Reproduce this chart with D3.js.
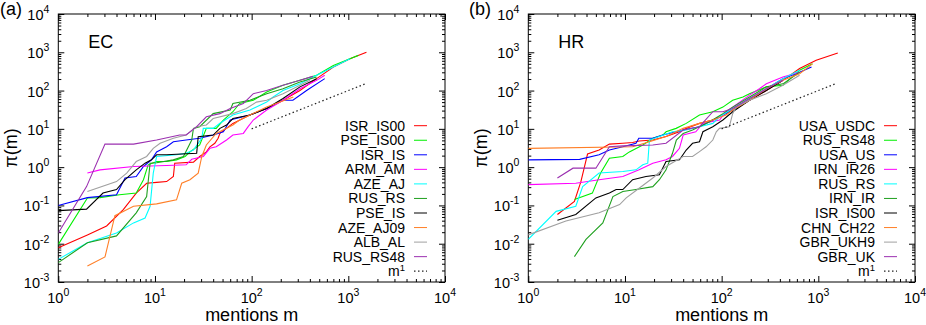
<!DOCTYPE html>
<html>
<head>
<meta charset="utf-8">
<script src="https://d3js.org/d3.v7.min.js"></script>
<style>
  body { margin: 0; background: #fff; }
  text { font-family: "Liberation Sans", Arial, sans-serif; fill: #000; }
</style>
</head>
<body>
<svg id="chart" width="926" height="325"></svg>
<script>
// ---- data (mentions m, pi(m)) ----
var xExps = [0, 1, 2, 3, 4];
var yExps = [-3, -2, -1, 0, 1, 2, 3, 4];
var colors = ["#ff0000", "#00f000", "#0000ff", "#ff00ff", "#00ffff",
              "#1fa01f", "#000000", "#ff7f27", "#a0a0a0", "#9b30b0"];

var ecNames = ["ISR_IS00", "PSE_IS00", "ISR_IS", "ARM_AM", "AZE_AJ",
               "RUS_RS", "PSE_IS", "AZE_AJ09", "ALB_AL", "RUS_RS48"];
var ecData = [
  // ISR_IS00
  [[1,0.0079],[2,0.017],[3.16,0.029],[4.7,0.078],[6.4,0.21],[8.2,0.38],[10.4,0.4],[13.2,0.42],[15.5,0.57],[16,1.27],[25,1.35],[29,1.9],[34,2.5],[37,3.4],[41.6,4.2],[45,5.7],[47,7.6],[64,13.9],[96,23],[143,34],[211,56],[316,100],[470,205],[700,410],[1040,680],[1540,1000]],
  // PSE_IS00
  [[1,0.0096],[2,0.157],[2.7,0.16],[4.3,0.19],[6.4,0.21],[7.6,0.47],[8.5,1.15],[10.4,1.4],[13.2,1.4],[16.7,1.55],[20.5,1.9],[23,2.5],[29,3.8],[34,10.3],[43,10.3],[51,17],[64,28],[75,46],[104,56],[143,92],[211,137],[316,185],[470,250],[700,450],[1040,680],[1270,830]],
  // ISR_IS
  [[1,0.1],[2,0.16],[4,0.19],[4.9,0.52],[6.4,0.57],[7.6,1.04],[9.2,1.55],[10.4,2.5],[13.2,3.4],[15.5,4.6],[21,5.1],[29,5.7],[40,6.9],[51,8.4],[60,17],[96,23],[143,34],[211,56],[267,56],[370,100],[570,205]],
  // ARM_AM
  [[2,0.7],[2.7,0.85],[6,1.04],[13.2,1.1],[21,1.15],[24,1.6],[31.6,1.9],[37,3.1],[43,3.4],[55,5.1],[64,6.9],[82,7.6],[92,11.4],[104,17],[143,31],[211,56],[316,112],[470,185],[570,250]],
  // AZE_AJ
  [[1,0.0039],[2,0.0106],[4,0.019],[6,0.035],[7.9,0.047],[8.9,0.095],[9.6,0.7],[10.4,1.9],[16.7,2.1],[21,2.3],[25,2.8],[30.5,5.7],[31.6,10.3],[40,10.3],[47,14],[64,23],[96,31],[143,50],[167,68],[211,100],[316,150],[470,250],[700,410],[1040,680]],
  // RUS_RS
  [[1,0.0032],[2,0.0106],[4,0.016],[6.4,0.064],[8.2,0.17],[8.9,1.27],[10.4,1.3],[15.5,1.55],[19.7,1.9],[24,5.1],[25,10.3],[29,11.4],[40,25],[60,31],[64,46],[96,56],[143,83],[211,112],[316,168],[470,225]],
  // PSE_IS
  [[1,0.073],[1.96,0.08],[2.9,0.21],[4,0.26],[4.9,0.47],[6.4,0.85],[7.9,1.27],[9.2,1.55],[10.4,2.1],[13.2,2.1],[27,2.3],[28,6.2],[40,6.9],[47,10.3],[55,12.6],[64,18.6],[96,23],[143,34],[211,62],[316,125],[470,205]],
  // AZE_AJ09
  [[2,0.0026],[3.04,0.0045],[3.85,0.054],[6,0.095],[10.4,0.11],[16.7,0.14],[18.9,0.38],[23,0.47],[28,0.7],[30.5,1.9],[34,3.8],[43,7.6],[64,12.6],[75,17],[96,23],[143,37],[270,68]],
  // ALB_AL
  [[2,0.23],[4,0.42],[5.1,0.7],[6.4,1.4],[8.2,1.9],[9.6,3.1],[11.3,4.2],[15.5,5.7],[21,6.9],[27,11.4],[34,12.6],[40,18.6],[64,25],[88,34],[112,50],[143,56],[211,83],[316,137],[400,185]],
  // RUS_RS48
  [[1,0.019],[1.96,0.31],[3.04,4.0],[6,4.0],[10.4,5.1],[18,6.9],[21,6.9],[27,11.4],[34,20.7],[47,25],[60,34],[82,46],[104,83],[143,100],[211,137],[316,185],[430,235]]
];

var hrNames = ["USA_USDC", "RUS_RS48", "USA_US", "IRN_IR26", "RUS_RS",
               "IRN_IR", "ISR_IS00", "CHN_CH22", "GBR_UKH9", "GBR_UK"];
var hrData = [
  // USA_USDC
  [[2,0.058],[3,0.128],[3.5,0.42],[4.1,2.2],[5.4,2.8],[6.9,4.0],[9.5,4.2],[12,4.4],[14,4.8],[19.4,5.1],[26.6,6.3],[36.6,8.4],[43,10.3],[59,13.9],[81,17],[103,23],[130,31],[194,56],[290,100],[430,185],[640,375],[950,620],[1590,960]],
  // RUS_RS48
  [[3,0.142],[4.6,0.21],[5.6,0.7],[6.9,1.7],[9.5,1.9],[11.1,2.5],[15.3,3.8],[19.4,5.7],[24.6,6.9],[26.6,8.4],[33.8,10.3],[43,13.9],[59,23],[81,28],[103,37],[130,56],[166,68],[194,83],[290,125],[430,137],[640,340],[870,500]],
  // USA_US
  [[1,1.55],[3.4,1.6],[5.4,2.1],[6.9,2.8],[9.5,3.4],[13,4.2],[13.9,5.7],[19.4,5.7],[24.6,6.9],[40,9.3],[59,11.4],[95,20.7],[130,31],[194,56],[290,112],[430,205],[640,300],[850,410]],
  // IRN_IR26
  [[1,0.35],[3.1,0.38],[5.4,0.47],[9.5,0.57],[14,0.85],[19.4,1.27],[26.6,1.55],[31,1.9],[36.6,3.1],[40,6.9],[46,7.6],[54,8.4],[64,13.9],[95,17],[111,28],[130,37],[194,76],[246,112],[290,150],[430,225],[640,300]],
  // RUS_RS
  [[1,0.013],[1.94,0.07],[3.1,0.095],[3.65,0.31],[5.4,0.7],[9.5,0.77],[13,0.85],[15.3,1.15],[17.2,1.27],[17.9,5.1],[22.7,6.3],[31,8.4],[43,9.3],[59,11.4],[81,13.9],[95,20.7],[130,34],[194,62],[290,112],[430,205],[640,340]],
  // IRN_IR
  [[3,0.0046],[3.95,0.013],[5.9,0.035],[7.5,0.17],[9.5,0.23],[13,0.26],[19.4,0.31],[22.7,0.47],[26.6,0.85],[31,2.3],[34,5.1],[40,7.6],[50,9.3],[75,15.3],[103,25],[130,37],[194,68],[290,125],[430,150],[640,300]],
  // ISR_IS00
  [[2,0.041],[3.1,0.058],[5,0.157],[6.9,0.21],[8.1,0.26],[9.5,0.26],[12,0.47],[16.5,0.57],[22.7,0.63],[26.6,1.4],[36.6,1.55],[43,2.8],[50,4.2],[59,4.6],[64,8.4],[81,11.4],[103,17],[130,28],[194,56],[290,100],[430,185]],
  // CHN_CH22
  [[1,3.1],[12,3.4],[17.9,4.6],[26.6,6.3],[40,10.3],[59,13.9],[81,17],[111,23],[130,31],[194,56],[290,112],[430,185],[640,275],[870,500]],
  // GBR_UKH9
  [[1,0.017],[2.45,0.039],[5.4,0.064],[8.8,0.105],[10.3,0.157],[14,0.28],[19.4,0.52],[26.6,1.04],[40,1.9],[50,1.9],[59,2.55],[69,3.4],[81,5.1],[88,8.4],[95,10.3],[120,11.4],[130,25],[141,37],[194,56],[290,83],[430,137],[640,250]],
  // GBR_UK
  [[2,0.52],[2.9,0.94],[5,0.94],[6.9,3.4],[9.5,3.6],[19.4,3.8],[26.6,4.2],[40,9.3],[59,11.4],[81,28],[103,28],[130,34],[194,62],[290,112],[430,185]]
];

// reference line pi = m/10 drawn from m=100 to m=1550
var refLine = [[100, 10], [1550, 155]];

// ---- drawing ----
var svg = d3.select("#chart");

var panels = [
  {left: 58.3, tag: "(a)", tagX: 0, title: "EC", names: ecNames, data: ecData},
  {left: 528.3, tag: "(b)", tagX: 469, title: "HR", names: hrNames, data: hrData}
];

var plotW = 386.7, plotTop = 14, plotBottom = 282;

panels.forEach(function(p) {
  var x = d3.scaleLog().domain([1, 1e4]).range([p.left, p.left + plotW]);
  var y = d3.scaleLog().domain([1e-3, 1e4]).range([plotBottom, plotTop]);

  var majorX = xExps.map(function(e) { return Math.pow(10, e); });
  var majorY = yExps.map(function(e) { return Math.pow(10, e); });
  var minorX = [], minorY = [];
  xExps.slice(0, -1).forEach(function(e) { for (var k = 2; k < 10; k++) minorX.push(k * Math.pow(10, e)); });
  yExps.slice(0, -1).forEach(function(e) { for (var k = 2; k < 10; k++) minorY.push(k * Math.pow(10, e)); });

  var g = svg.append("g");

  // inward ticks on all four sides
  function ticks(axis, vals, size, tr) {
    var a = g.append("g").attr("transform", tr)
      .call(axis.tickValues(vals).tickSize(-size).tickFormat(""));
    a.select(".domain").remove();
    a.selectAll("line").attr("stroke", "#000").attr("stroke-width", 1);
  }
  ticks(d3.axisBottom(x), majorX, 6, "translate(0," + plotBottom + ")");
  ticks(d3.axisBottom(x), minorX, 3, "translate(0," + plotBottom + ")");
  ticks(d3.axisTop(x), majorX, 6, "translate(0," + plotTop + ")");
  ticks(d3.axisTop(x), minorX, 3, "translate(0," + plotTop + ")");
  ticks(d3.axisLeft(y), majorY, 6, "translate(" + p.left + ",0)");
  ticks(d3.axisLeft(y), minorY, 3, "translate(" + p.left + ",0)");
  ticks(d3.axisRight(y), majorY, 6, "translate(" + (p.left + plotW) + ",0)");
  ticks(d3.axisRight(y), minorY, 3, "translate(" + (p.left + plotW) + ",0)");

  g.append("rect").attr("x", p.left).attr("y", plotTop)
    .attr("width", plotW).attr("height", plotBottom - plotTop)
    .attr("fill", "none").attr("stroke", "#000").attr("stroke-width", 1);

  // tick labels 10^e
  xExps.forEach(function(e) {
    var t = g.append("text").attr("x", x(Math.pow(10, e))).attr("y", 303)
      .attr("text-anchor", "middle").attr("font-size", "14.5px").text("10");
    t.append("tspan").attr("dy", "-7").attr("font-size", "10.5px").text(e);
  });
  yExps.forEach(function(e) {
    var t = g.append("text").attr("x", p.left - 9).attr("y", y(Math.pow(10, e)) + 6)
      .attr("text-anchor", "end").attr("font-size", "14.5px").text("10");
    t.append("tspan").attr("dy", "-7").attr("font-size", "10.5px").text(e);
  });

  // axis titles
  g.append("text").attr("x", p.left + plotW / 2).attr("y", 321)
    .attr("text-anchor", "middle").attr("font-size", "18px").text("mentions m");
  g.append("text").attr("transform", "translate(" + (p.left - 41) + "," + ((plotTop + plotBottom) / 2) + ") rotate(-90)")
    .attr("text-anchor", "middle").attr("font-size", "18px").text("\u03c0(m)");
  g.append("text").attr("x", p.tagX).attr("y", 15).attr("font-size", "18px").text(p.tag);
  g.append("text").attr("x", p.left + 30).attr("y", 47.5).attr("font-size", "18px").text(p.title);

  // series
  var line = d3.line().x(function(d) { return x(d[0]); }).y(function(d) { return y(d[1]); });
  var clipId = "clip" + p.tag.charAt(1);
  svg.append("clipPath").attr("id", clipId).append("rect")
    .attr("x", p.left).attr("y", plotTop).attr("width", plotW).attr("height", plotBottom - plotTop);
  var lines = g.append("g").attr("clip-path", "url(#" + clipId + ")");
  p.data.forEach(function(s, i) {
    lines.append("path").datum(s).attr("d", line)
      .attr("fill", "none").attr("stroke", colors[i]).attr("stroke-width", 1.1);
  });
  lines.append("path").datum(refLine).attr("d", line)
    .attr("fill", "none").attr("stroke", "#222").attr("stroke-width", 1.2)
    .attr("stroke-dasharray", "1.5,2.5");

  // legend
  var lx = p.left + plotW - 31, ly0 = 125.7, dy = 14.55;
  p.names.forEach(function(n, i) {
    var yy = ly0 + i * dy;
    g.append("text").attr("x", lx - 9).attr("y", yy + 5)
      .attr("text-anchor", "end").attr("font-size", "14px").text(n);
    g.append("line").attr("x1", lx).attr("x2", lx + 13).attr("y1", yy).attr("y2", yy)
      .attr("stroke", colors[i]).attr("stroke-width", 1);
  });
  var yr = ly0 + p.names.length * dy;
  var mt = g.append("text").attr("x", lx - 9).attr("y", yr + 5)
    .attr("text-anchor", "end").attr("font-size", "14px").text("m");
  mt.append("tspan").attr("dy", "-5.5").attr("font-size", "9.5px").text("1");
  g.append("line").attr("x1", lx).attr("x2", lx + 13).attr("y1", yr).attr("y2", yr)
    .attr("stroke", "#222").attr("stroke-width", 1.2).attr("stroke-dasharray", "1.5,2.5");
});
</script>
</body>
</html>
